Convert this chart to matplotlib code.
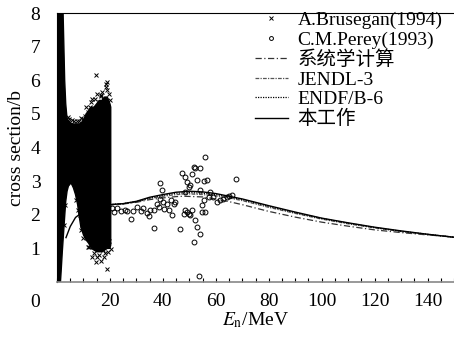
import numpy as np
import matplotlib
matplotlib.use('Agg')
import matplotlib.pyplot as plt

plt.rcParams['font.family'] = ['Liberation Serif', 'Noto Sans CJK SC']
plt.rcParams['mathtext.fontset'] = 'stix'

# A.Brusegan(1994): dense band drawn as envelope + scattered edge points
bru_env_e = [0.3, 1.3, 1.5, 2.0, 2.3, 2.6, 2.9, 3.3, 3.8, 4.3, 5.0, 5.3, 6.2, 7.0, 7.8, 8.5,
             9.0, 10.0, 11.0, 12.0, 13.0, 14.0, 15.0, 16.0, 17.0, 18.0, 19.0, 20.0, 20.3]
bru_env_lo = [0.0, 0.0, 0.24, 0.9, 1.25, 1.6, 1.95, 2.4, 2.7, 2.85, 2.92, 2.95, 2.8, 2.6, 2.3, 1.9,
              1.65, 1.4, 1.25, 1.15, 1.0, 0.95, 0.9, 0.9, 0.9, 0.95, 1.0, 1.0, 1.1]
bru_env_hi = [8.0, 8.0, 8.0, 8.0, 8.0, 7.0, 6.0, 5.3, 4.85, 4.8, 4.75, 4.72, 4.7, 4.7, 4.7, 4.7,
              4.72, 4.8, 5.0, 5.1, 5.2, 5.2, 5.3, 5.4, 5.4, 5.5, 5.5, 5.3, 5.2]
bru_e = [14.7, 19.0, 18.4, 18.7, 13.4, 16.5, 15.9, 14.5, 17.2, 16.8, 12.6, 11.6, 19.6, 20.1,
         12.8, 15.3, 13.4, 16.5, 17.8, 19.0, 19.7, 20.3, 10.3, 11.5, 14.1, 14.8, 18.2, 12.2,
         9.4, 8.8, 10.8, 16.0, 17.5, 19.3, 4.5, 6.5, 8.5, 9.8, 3.0, 2.6,
         4.0, 5.5, 7.5, 9.0, 10.5, 11.0, 13.0, 15.0, 17.0, 18.8, 7.2, 8.0, 9.2, 10.0, 11.8]
bru_v = [6.15, 5.95, 5.8, 5.9, 5.44, 5.53, 5.34, 5.45, 5.45, 5.55, 5.2, 5.05, 5.6, 5.4,
         1.18, 0.73, 0.73, 0.63, 0.73, 0.38, 1.23, 0.98, 1.78, 1.43, 0.85, 0.6, 0.85, 1.05,
         1.7, 2.0, 1.4, 0.8, 0.95, 0.9, 4.85, 4.8, 4.78, 4.85, 2.3, 1.7,
         4.9, 4.82, 4.8, 4.88, 4.95, 5.2, 5.35, 5.6, 5.65, 5.7, 2.45, 2.15, 1.55, 1.3, 1.05]

# C.M.Perey(1993)
per_e = [21.5, 22.8, 24.3, 25.6, 26.6, 27.8, 28.8, 30.1, 31.6, 32.6, 34.1, 34.7, 35.3, 36.6,
         36.8, 37.9, 38.5, 38.8, 39.1, 39.7, 40.1, 40.6, 41.4, 42.2, 42.9, 43.5, 44.1, 44.7,
         46.4, 47.9, 48.5, 49.1, 49.7, 50.4, 51.0, 47.2, 48.5, 49.1, 49.7, 50.4, 48.5, 51.6,
         52.3, 52.9, 54.1, 54.8, 55.4, 52.3, 52.9, 54.1, 51.9, 53.5, 56.0, 56.7, 57.9, 59.1,
         60.4, 61.7, 64.2, 53.9, 51.0, 55.4, 57.3, 62.9, 64.8, 66.0, 67.7, 54.8, 56.0, 20.6]
per_v = [2.08, 2.21, 2.11, 2.13, 2.11, 1.88, 2.11, 2.23, 2.11, 2.21, 2.05, 1.95, 2.13, 2.13,
         1.62, 2.33, 2.23, 2.48, 2.93, 2.73, 2.38, 2.18, 2.33, 2.13, 2.43, 1.98, 2.33, 2.38,
         1.58, 2.03, 2.13, 2.08, 2.01, 1.98, 2.13, 3.23, 3.13, 2.98, 2.83, 2.88, 2.68, 3.43,
         3.38, 3.03, 2.73, 2.28, 2.43, 1.83, 1.63, 1.43, 1.18, 0.18, 3.73, 3.03, 2.68, 2.53,
         2.38, 2.43, 2.53, 3.38, 3.20, 3.01, 2.53, 2.48, 2.55, 2.58, 3.05, 2.08, 2.08, 2.2]

# calculated curves
work_e = [3.4, 5, 7, 10, 15, 20, 25, 30, 35, 40, 45, 50, 55, 60, 65, 70, 80, 90, 100, 110, 120, 130, 140, 150]
work_v = [1.32, 1.65, 1.92, 2.1, 2.2, 2.3, 2.33, 2.4, 2.52, 2.6, 2.67, 2.7, 2.68, 2.63, 2.55, 2.47,
          2.27, 2.08, 1.9, 1.76, 1.63, 1.52, 1.42, 1.33]
endf_e = [20, 25, 30, 35, 40, 45, 50, 55, 60, 65, 70, 80, 90, 100, 110, 120, 130, 140, 150]
endf_v = [2.3, 2.33, 2.39, 2.5, 2.58, 2.64, 2.66, 2.64, 2.6, 2.53, 2.45, 2.25, 2.06, 1.89, 1.75,
          1.62, 1.51, 1.42, 1.33]
jendl_e = [20, 25, 30, 35, 40, 45, 50, 55, 60, 65, 70, 80, 90, 100, 110, 120, 130, 140, 150]
jendl_v = [2.3, 2.33, 2.38, 2.48, 2.55, 2.6, 2.62, 2.6, 2.56, 2.5, 2.42, 2.22, 2.04, 1.87, 1.73,
           1.61, 1.5, 1.41, 1.33]
sys_e = [20, 25, 30, 35, 40, 45, 48, 55, 60, 65, 70, 80, 90, 100, 110, 120, 130, 140, 150]
sys_v = [2.3, 2.32, 2.37, 2.45, 2.5, 2.54, 2.55, 2.53, 2.47, 2.39, 2.3, 2.1, 1.93, 1.78, 1.66,
         1.55, 1.47, 1.4, 1.34]

fig = plt.figure(figsize=(4.54, 3.37), dpi=100)
ax = fig.add_axes((57 / 454, 1 - 282 / 337, 397 / 454, 269 / 337))

ax.fill(bru_env_e + bru_env_e[::-1], bru_env_lo + bru_env_hi[::-1], facecolor='black',
        edgecolor='black', lw=1.0, zorder=2)
ax.plot(bru_e, bru_v, 'x', color='black', ms=3.5, mew=0.7, zorder=3, label='A.Brusegan(1994)')
ax.plot(per_e, per_v, 'o', mfc='none', color='black', ms=3.5, mew=0.7, zorder=3,
        label='C.M.Perey(1993)')
ax.plot(sys_e, sys_v, color='#333333', lw=0.9, dashes=(5, 2, 1, 2), label='系统学计算')
ax.plot(jendl_e, jendl_v, color='#555555', lw=0.9, dashes=(3, 1, 1, 1), label='JENDL-3')
ax.plot(endf_e, endf_v, color='black', lw=0.9, dashes=(1, 1), label='ENDF/B-6')
ax.plot(work_e, work_v, color='black', lw=1.0, label='本工作', zorder=4)

ax.set_xlim(0, 150)
ax.set_ylim(0, 8)
ax.set_xticks(range(20, 141, 20))
ax.set_xticks(range(0, 151, 5), minor=True)
ax.set_yticks(range(1, 9))
ax.tick_params(axis='x', which='both', direction='in', length=3, width=0.8, labelsize=14, pad=8)
ax.tick_params(axis='y', length=0, labelsize=14, pad=12)
ax.spines['right'].set_visible(False)
ax.spines['bottom'].set_color('#888888')
ax.spines['bottom'].set_linewidth(1.2)
ax.text(-0.055, -0.075, '0', transform=ax.transAxes, fontsize=14, ha='center', va='center')

ax.set_ylabel('cross section/b', fontsize=14, labelpad=4)
ax.set_xlabel(r'$E_\mathrm{n}$/MeV', fontsize=14, labelpad=0)

ax.legend(loc='upper right', bbox_to_anchor=(1.0, 1.05), frameon=False, fontsize=14,
          handlelength=1.7, handletextpad=0.5, labelspacing=0.1, borderaxespad=0.2, markerscale=0.8)

plt.savefig('out.png', dpi=100)
